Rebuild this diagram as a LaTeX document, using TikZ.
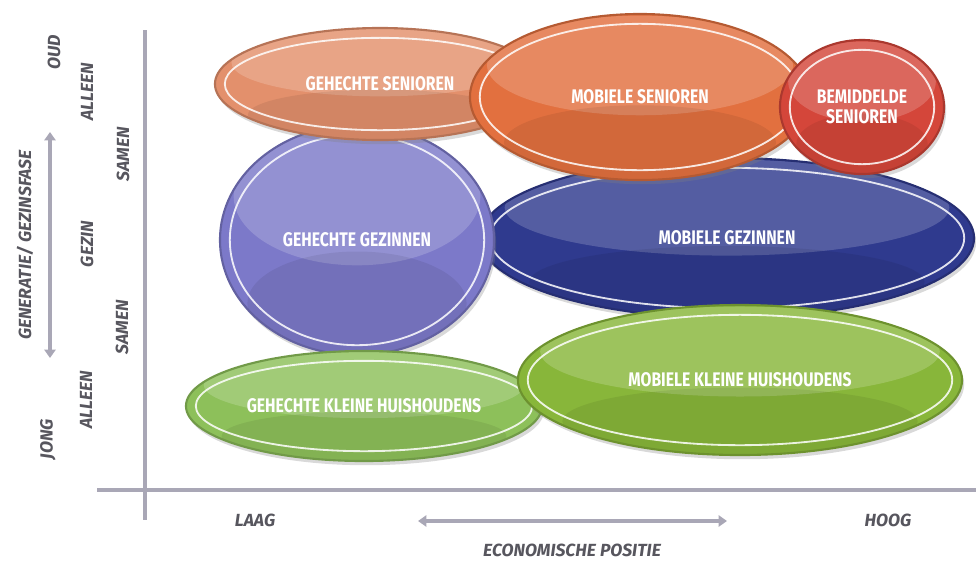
\documentclass[tikz,border=0pt]{standalone}
\usepackage{fontspec}
\newfontfamily\bubblefont[FakeStretch=0.8]{Fira Sans}
\newfontfamily\axisfont{Fira Sans}
\usetikzlibrary{shapes.geometric,shadows,calc,arrows.meta}
\definecolor{seniorlight}{HTML}{E3906C}
\definecolor{seniormob}{HTML}{E2703F}
\definecolor{seniorred}{HTML}{D4463A}
\definecolor{gezinlight}{HTML}{7C79C9}
\definecolor{gezinmob}{HTML}{2F3A8E}
\definecolor{kleinlight}{HTML}{8DC05A}
\definecolor{kleinmob}{HTML}{88B63A}
\definecolor{axisgray}{HTML}{A9A7B6}
\definecolor{labelgray}{HTML}{57565E}
\begin{document}
\begin{tikzpicture}[x=0.025cm, y=-0.025cm,
    bubble/.style={ellipse, inner sep=0pt, fill=#1, draw=#1!80!black, line width=1.5pt,
      text=white, font=\bubblefont\bfseries\fontsize{14}{16}\selectfont, align=center,
      drop shadow={opacity=0.3, shadow xshift=1.5pt, shadow yshift=-3pt},
      path picture={
        \path[fill=white, fill opacity=0.18]
          let \p1=($(path picture bounding box.north east)-(path picture bounding box.center)$) in
          ($(path picture bounding box.center)+(0,0.38*\y1)$) ellipse ({0.9*\x1} and {0.6*\y1});
        \path[fill=black, fill opacity=0.07]
          let \p1=($(path picture bounding box.north east)-(path picture bounding box.center)$) in
          ($(path picture bounding box.center)+(0,-0.55*\y1)$) ellipse ({0.8*\x1} and {0.45*\y1});
        \path[draw=white, line width=1.3pt, draw opacity=0.85]
          let \p1=($(path picture bounding box.north east)-(path picture bounding box.center)$) in
          (path picture bounding box.center) ellipse ({\x1-7pt} and {\y1-7pt});
      }},
    axisline/.style={axisgray, line width=2.2pt},
    axisarrow/.style={axisgray, line width=2.2pt, {Triangle[length=6pt,width=8pt]}-{Triangle[length=6pt,width=8pt]}},
    axislabel/.style={labelgray, font=\axisfont\bfseries\itshape\fontsize{12.5}{14}\selectfont}]
  \useasboundingbox (0,0) rectangle (976,561);

  % Axes
  \draw[axisline] (145,30) -- (145,520);
  \draw[axisline] (97,490) -- (976,490);

  % Gezinnen (blue)
  \node[bubble=gezinmob, minimum width=12.35cm, minimum height=4cm] (mobgezin) at (727,238) {MOBIELE GEZINNEN};
  \node[bubble=gezinlight, minimum width=6.85cm, minimum height=5.75cm] (gehgezin) at (357,240) {GEHECHTE GEZINNEN};

  % Senioren (orange / red)
  \node[bubble=seniorlight, minimum width=8.25cm, minimum height=2.8cm] (gehsenior) at (380,84) {GEHECHTE SENIOREN};
  \node[bubble=seniormob, minimum width=8.5cm, minimum height=4.15cm] (mobsenior) at (640,97) {MOBIELE SENIOREN};
  \node[bubble=seniorred, minimum width=4.1cm, minimum height=3.35cm] (bemsenior) at (862,107) {BEMIDDELDE\\[-2pt]SENIOREN};

  % Kleine huishoudens (green)
  \node[bubble=kleinlight, minimum width=8.9cm, minimum height=2.75cm] (gehklein) at (364,406) {GEHECHTE KLEINE HUISHOUDENS};
  \node[bubble=kleinmob, minimum width=11.1cm, minimum height=3.75cm] (mobklein) at (740,380) {MOBIELE KLEINE HUISHOUDENS};

  % Economische positie
  \node[axislabel] (laag) at (255,520) {LAAG};
  \node[axislabel] (hoog) at (888,520) {HOOG};
  \coordinate (econwest) at (418,521);
  \coordinate (econeast) at (727,521);
  \draw[axisarrow] (econwest) -- (econeast);
  \node[axislabel, anchor=base, inner sep=0pt] (econ) at (572,556) {ECONOMISCHE POSITIE};

  % Generatie / gezinsfase
  \node[axislabel, rotate=90] (generatie) at (25,245) {GENERATIE/ GEZINSFASE};
  \coordinate (genbottom) at (50,358);
  \coordinate (gentop) at (50,132);
  \draw[axisarrow] (genbottom) -- (gentop);
  \node[axislabel, rotate=90] (oud) at (54,52) {OUD};
  \node[axislabel, rotate=90] (jong) at (48,439) {JONG};
  \node[axislabel, rotate=90] (alleentop) at (87,92) {ALLEEN};
  \node[axislabel, rotate=90] (samentop) at (123,154) {SAMEN};
  \node[axislabel, rotate=90] (gezin) at (87,244) {GEZIN};
  \node[axislabel, rotate=90] (samenbottom) at (122,327) {SAMEN};
  \node[axislabel, rotate=90] (alleenbottom) at (86,400) {ALLEEN};
\end{tikzpicture}
\end{document}
